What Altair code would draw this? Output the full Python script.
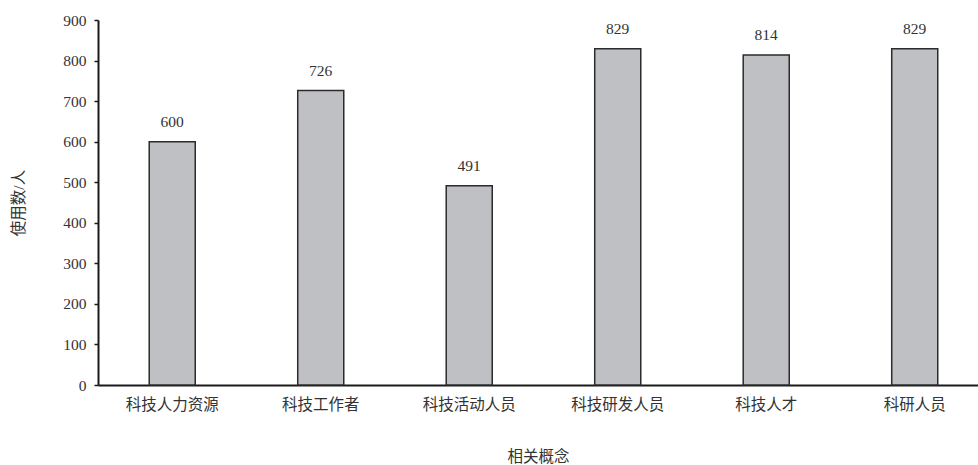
import altair as alt
import pandas as pd

concepts = ["科技人力资源", "科技工作者", "科技活动人员", "科技研发人员", "科技人才", "科研人员"]
counts = [600, 726, 491, 829, 814, 829]

df = pd.DataFrame({"concept": concepts, "count": counts})

FONT = "Liberation Serif, Times New Roman, Noto Sans CJK SC"
TEXT = "#333333"

base = alt.Chart(df).encode(
    x=alt.X(
        "concept:N",
        sort=concepts,
        scale=alt.Scale(paddingInner=0.69, paddingOuter=0.308, align=0.56),
        axis=alt.Axis(
            title="相关概念",
            labelAngle=0,
            ticks=False,
            labelPadding=12,
            titlePadding=37,
            domainColor="#1a1a1a",
            domainWidth=2,
            labelFont=FONT,
            titleFont=FONT,
            labelFontSize=15.5,
            titleFontSize=15.5,
            labelColor=TEXT,
            titleColor=TEXT,
            titleFontWeight="normal",
        ),
    ),
    y=alt.Y(
        "count:Q",
        scale=alt.Scale(domain=[0, 900], nice=False),
        axis=alt.Axis(
            title="使用数/人",
            values=list(range(0, 901, 100)),
            grid=False,
            tickSize=4,
            tickColor="#1a1a1a",
            tickWidth=1.5,
            labelPadding=8,
            titlePadding=36,
            domainColor="#1a1a1a",
            domainWidth=2,
            labelFont=FONT,
            titleFont=FONT,
            labelFontSize=15.5,
            titleFontSize=15.5,
            labelColor=TEXT,
            titleColor=TEXT,
            titleFontWeight="normal",
        ),
    ),
)

bars = base.mark_bar(fill="#bfc0c4", stroke="#2b2b2b", strokeWidth=1.5)

labels = base.mark_text(
    baseline="alphabetic",
    dy=-15,
    font=FONT,
    fontSize=15.5,
    color=TEXT,
).encode(text="count:Q")

chart = (
    (bars + labels)
    .properties(
        width=880,
        height=365,
        background="white",
        autosize=alt.AutoSizeParams(type="none"),
        padding={"left": 98, "top": 20, "right": 0, "bottom": 80},
    )
    .configure_view(stroke=None, strokeWidth=0)
)

chart.save("out.html", embed_options={"renderer": "svg", "actions": False})
